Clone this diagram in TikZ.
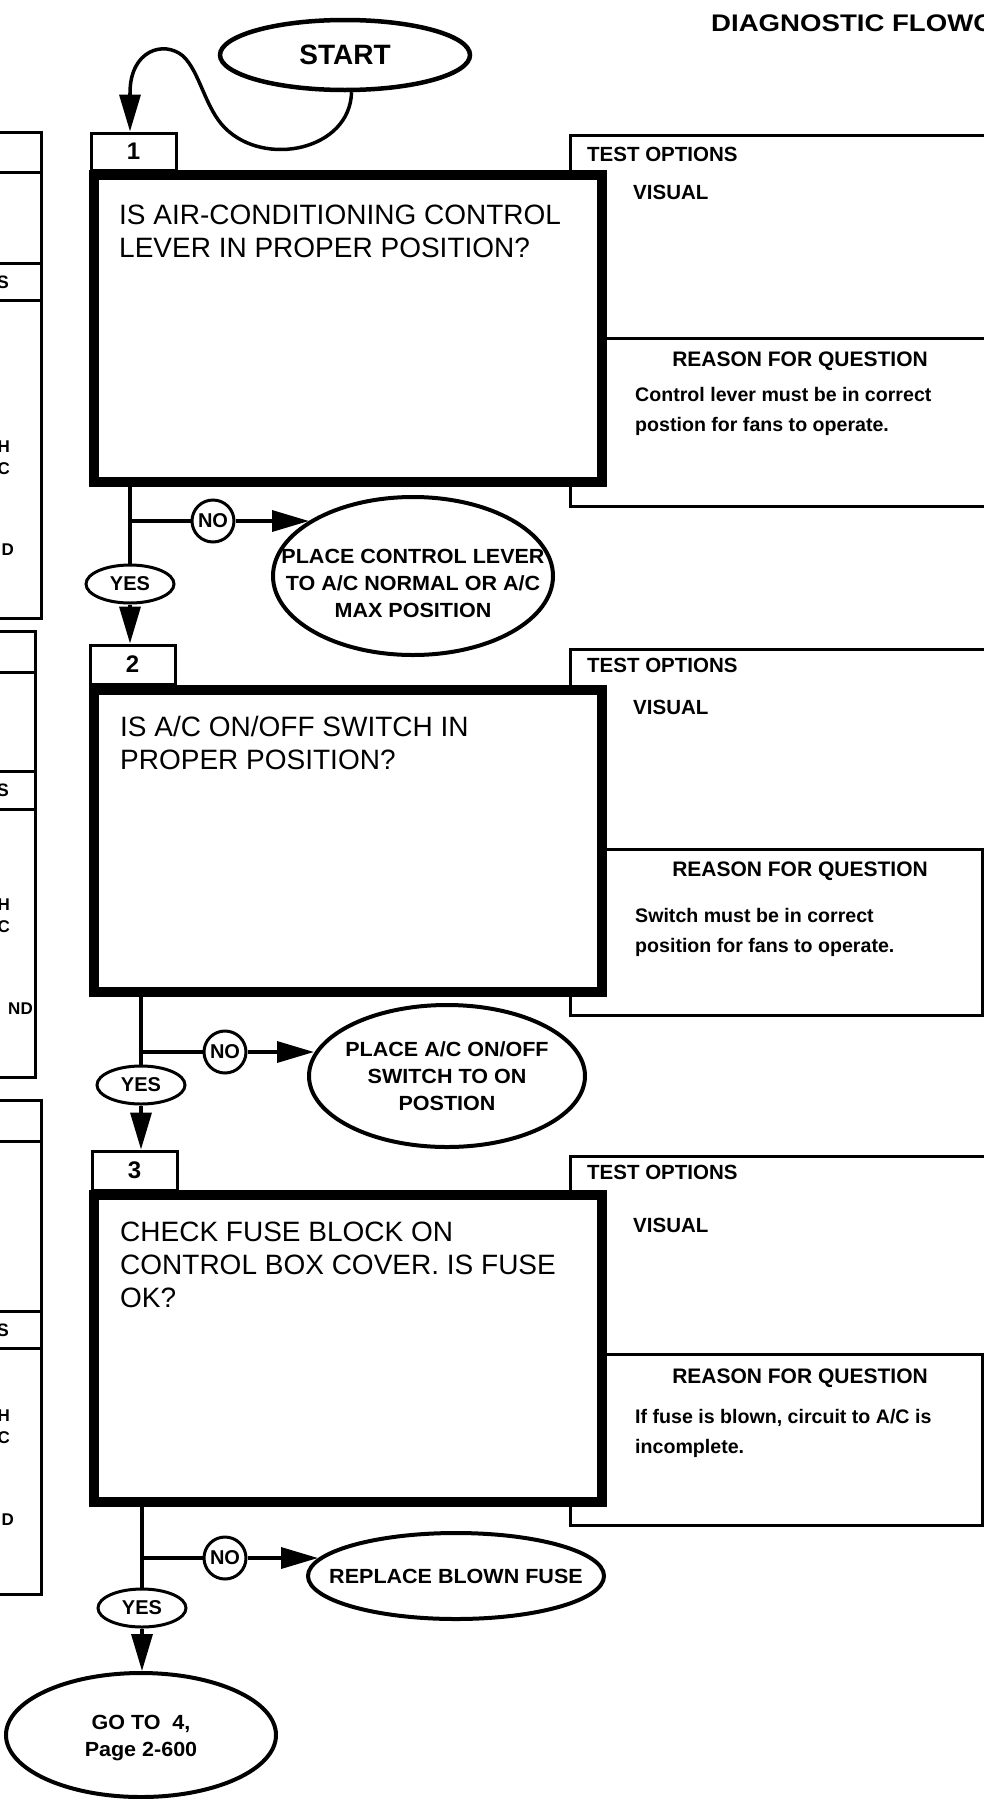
\documentclass[tikz,border=0pt]{standalone}
\usepackage{fontspec}
\setmainfont{Liberation Sans}
\newfontfamily\wf{Liberation Sans}[FakeStretch=1.05]
\usetikzlibrary{arrows.meta,shapes.geometric,calc}
\newcommand{\qf}{\fontsize{28}{33}\selectfont}
\newcommand{\hf}{\fontsize{20.5}{24}\selectfont\bfseries}
\newcommand{\rf}{\fontsize{19.6}{30}\selectfont\bfseries}
\newcommand{\lf}{\wf\fontsize{20.5}{27}\selectfont\bfseries}
\tikzset{
  qbox/.style={draw, rectangle, line width=10pt, fill=white, minimum width=508pt, inner sep=0pt},
  numbox/.style={draw, rectangle, line width=3pt, fill=white, minimum width=85pt, minimum height=37pt, inner sep=0pt, font=\fontsize{24}{24}\selectfont\bfseries},
  panel/.style={line width=3pt},
  qtext/.style={anchor=north west, align=left, inner sep=0pt, font=\qf},
  htext/.style={anchor=north west, inner sep=0pt, font=\hf},
  ctext/.style={anchor=north, inner sep=0pt, font=\hf},
  rtext/.style={anchor=north west, align=left, inner sep=0pt, font=\rf},
  outcome/.style={draw, ellipse, line width=4pt, fill=white, inner sep=0pt},
  otext/.style={align=center, inner sep=0pt, font=\lf},
  yesnode/.style={draw, ellipse, line width=3pt, fill=white, minimum width=88pt, minimum height=38pt, inner sep=0pt, font=\fontsize{20}{20}\selectfont\bfseries},
  nonode/.style={draw, circle, line width=3pt, fill=white, minimum size=42pt, inner sep=0pt, font=\fontsize{20}{20}\selectfont\bfseries},
  conn/.style={line width=3.5pt},
  arr/.style={line width=3.5pt, -{Triangle[length=37pt,width=21pt]}},
  side/.style={anchor=east, inner sep=0pt, font=\fontsize{17}{17}\selectfont\bfseries},
}
\begin{document}
\begin{tikzpicture}[x=1pt,y=-1pt]
\useasboundingbox (0,0) rectangle (984,1799);
\clip (0,0) rectangle (984,1799);

% title
\node[anchor=north west, inner sep=0pt, font=\fontsize{24}{24}\selectfont\bfseries] (title) at (711,15) {\scalebox{1.15}[1]{DIAGNOSTIC FLOWC}};

% ---------------- left partial panels ----------------
\draw[panel] (-10,132) rectangle (41,618);
\draw[panel] (-10,172) -- (41,172);
\draw[panel] (-10,263) -- (41,263);
\draw[panel] (-10,300) -- (41,300);
\node[side, font=\fontsize{18}{18}\selectfont\bfseries] (l1s) at (9,282) {S};
\node[side] (l1h) at (10,447) {H};
\node[side] (l1c) at (10,469) {C};
\node[side] (l1d) at (14,550) {D};

\draw[panel] (-10,631) rectangle (35,1077);
\draw[panel] (-10,672) -- (35,672);
\draw[panel] (-10,771) -- (35,771);
\draw[panel] (-10,809) -- (35,809);
\node[side, font=\fontsize{18}{18}\selectfont\bfseries] (l2s) at (9,790) {S};
\node[side] (l2h) at (10,905) {H};
\node[side] (l2c) at (10,927) {C};
\node[side] (l2d) at (33,1009) {ND};

\draw[panel] (-10,1100) rectangle (41,1594);
\draw[panel] (-10,1141) -- (41,1141);
\draw[panel] (-10,1311) -- (41,1311);
\draw[panel] (-10,1348) -- (41,1348);
\node[side, font=\fontsize{18}{18}\selectfont\bfseries] (l3s) at (9,1330) {S};
\node[side] (l3h) at (10,1416) {H};
\node[side] (l3c) at (10,1438) {C};
\node[side] (l3d) at (14,1520) {D};

% ---------------- right panels ----------------
\draw[panel] (570,135) rectangle (1010,506);
\draw[panel] (570,338) -- (1010,338);
\draw[panel] (570,649) rectangle (1010,849);
\draw[panel] (570,849) rectangle (982,1015);
\draw[panel] (570,1156) rectangle (1010,1354);
\draw[panel] (570,1354) rectangle (982,1525);

\node[htext] (to1) at (587,147) {TEST OPTIONS};
\node[htext] (v1) at (633,185) {VISUAL};
\node[ctext, font=\fontsize{21}{24}\selectfont\bfseries] (rq1) at (800,352) {REASON FOR QUESTION};
\node[rtext] (r1) at (635,387) {Control lever must be in correct\\postion for fans to operate.};

\node[htext] (to2) at (587,658) {TEST OPTIONS};
\node[htext] (v2) at (633,700) {VISUAL};
\node[ctext, font=\fontsize{21}{24}\selectfont\bfseries] (rq2) at (800,862) {REASON FOR QUESTION};
\node[rtext] (r2) at (635,908) {Switch must be in correct\\position for fans to operate.};

\node[htext] (to3) at (587,1165) {TEST OPTIONS};
\node[htext] (v3) at (633,1218) {VISUAL};
\node[ctext, font=\fontsize{21}{24}\selectfont\bfseries] (rq3) at (800,1369) {REASON FOR QUESTION};
\node[rtext] (r3) at (635,1409) {If fuse is blown, circuit to A/C is\\incomplete.};

% ---------------- question boxes ----------------
\node[numbox] (n1) at (133.5,151.5) {1};
\node[qbox, minimum height=307pt] (q1) at (348,328.5) {};
\node[qtext] (q1t) at (119,205) {IS AIR-CONDITIONING CONTROL\\LEVER IN PROPER POSITION?};

\node[numbox, minimum height=39pt] (n2) at (132.5,664.5) {2};
\node[qbox, minimum height=302pt] (q2) at (348,841) {};
\node[qtext] (q2t) at (120,716) {IS A/C ON/OFF SWITCH IN\\PROPER POSITION?};

\node[numbox, minimum height=39pt] (n3) at (134.5,1170.5) {3};
\node[qbox, minimum height=307pt] (q3) at (348,1348.5) {};
\node[qtext] (q3t) at (120,1222) {CHECK FUSE BLOCK ON\\CONTROL BOX COVER. IS FUSE\\OK?};

% ---------------- start ----------------
\node[draw, ellipse, line width=4.5pt, fill=white, minimum width=250pt, minimum height=70pt, inner sep=0pt, font=\fontsize{28}{28}\selectfont\bfseries] (start) at (345,55) {START};
\coordinate (a1) at (130,93);
\draw[conn] (start.-80) .. controls (350,150) and (265,168) .. (225,128)
   .. controls (205,108) and (200,72) .. (183,56)
   .. controls (164,40) and (130,50) .. (a1);
\draw[arr] (a1) -- (a1 |- n1.north);

% ---------------- section 1 branches ----------------
\node[yesnode] (yes1) at (130,584) {YES};
\node[nonode] (no1) at (213,521) {NO};
\node[outcome, minimum width=280pt, minimum height=158pt] (e1) at (413,576) {};
\node[otext] (e1t) at (413,583) {PLACE CONTROL LEVER\\TO A/C NORMAL OR A/C\\MAX POSITION};
\coordinate (t1) at (309,521);
\draw[conn] (q1.south -| yes1.north) -- (yes1.north);
\draw[conn] (yes1.north |- no1.west) -- (no1.west);
\draw[arr] (no1.east) -- (t1);
\draw[arr] (yes1.south) -- (yes1.south |- n2.north);

% ---------------- section 2 branches ----------------
\node[yesnode] (yes2) at (141,1085) {YES};
\node[nonode] (no2) at (225,1052) {NO};
\node[outcome, minimum width=276pt, minimum height=142pt] (e2) at (447,1076) {};
\node[otext] (e2t) at (447,1076) {PLACE A/C ON/OFF\\SWITCH TO ON\\POSTION};
\coordinate (t2) at (314,1052);
\draw[conn] (q2.south -| yes2.north) -- (yes2.north);
\draw[conn] (yes2.north |- no2.west) -- (no2.west);
\draw[arr] (no2.east) -- (t2);
\draw[arr] (yes2.south) -- (yes2.south |- n3.north);

% ---------------- section 3 branches ----------------
\node[yesnode] (yes3) at (142,1608) {YES};
\node[nonode] (no3) at (225,1558) {NO};
\node[outcome, minimum width=296pt, minimum height=86pt] (e3) at (456,1576) {};
\node[otext] (e3t) at (456,1576) {REPLACE BLOWN FUSE};
\coordinate (t3) at (318,1558);
\node[outcome, minimum width=270pt, minimum height=124pt] (goto) at (141,1735) {};
\node[otext] (gotot) at (141,1738) {GO TO\ \ 4,\\Page 2-600};
\draw[conn] (q3.south -| yes3.north) -- (yes3.north);
\draw[conn] (yes3.north |- no3.west) -- (no3.west);
\draw[arr] (no3.east) -- (t3);
\draw[arr] (yes3.south) -- (yes3.south |- goto.north);
\end{tikzpicture}
\end{document}
